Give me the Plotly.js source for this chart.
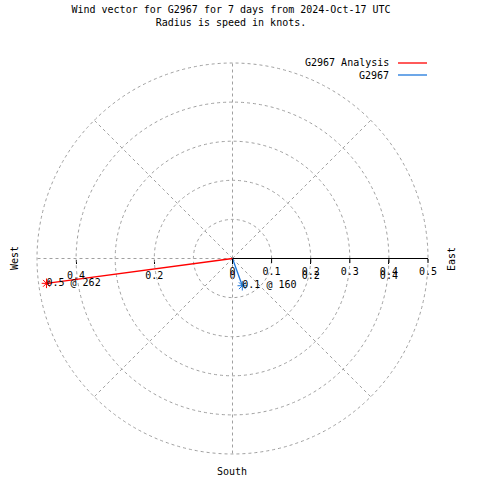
<!DOCTYPE html>
<html>
<head>
<meta charset="utf-8">
<script src="https://cdn.plot.ly/plotly-3.0.1.min.js"></script>
<style>html,body{margin:0;padding:0;background:#fff;}#chart{width:480px;height:480px;}</style>
</head>
<body>
<div id="chart"></div>
<script>
// ---- data ----
const seriesNames = ["G2967 Analysis", "G2967"];
const speedKnots = [0.48, 0.074];          // radius = speed (knots)
const directionDeg = [262.4, 160.2];       // compass bearing, clockwise from North
const pointLabels = ["0.5 @ 262", "0.1 @ 160"];
const radialTickVals = [0, 0.1, 0.2, 0.3, 0.4, 0.5];
const xTickVals = [-0.4, -0.2, 0, 0.2, 0.4];
const xTickText = ["0.4", "0.2", "0", "0.2", "0.4"];
const compassLabels = ["East", "West", "South"];
const titleLines = ["Wind vector for G2967 for 7 days from 2024-Oct-17 UTC", "Radius is speed in knots."];

// ---- styles ----
const seriesColors = ["#ff0000", "#1e78dc"];
const FONT = "DejaVu Sans Mono";
const GRID = "#a0a0a0";
const DASH = "3px,3px";
const W = 480, H = 480;
const cx = 232.5, cy = 258.5, R = 195.5;
const px = v => v / W, py = v => 1 - v / H;

const traces = [];
for (let i = 0; i < seriesNames.length; i++) {
  traces.push({
    type: "scatterpolar", subplot: "polar",
    r: [0, speedKnots[i]], theta: [directionDeg[i], directionDeg[i]],
    mode: "lines", line: {color: seriesColors[i], width: 1.3},
    name: seriesNames[i], showlegend: false, hoverinfo: "skip"
  });
  traces.push({
    type: "scatterpolar", subplot: "polar",
    r: [speedKnots[i]], theta: [directionDeg[i]],
    mode: "markers", marker: {symbol: "asterisk-open", size: 8, color: seriesColors[i], line: {color: seriesColors[i], width: 1}},
    showlegend: false, hoverinfo: "skip"
  });
  traces.push({
    type: "scatterpolar", subplot: "polar",
    r: [speedKnots[i]], theta: [directionDeg[i]],
    mode: "text", text: [pointLabels[i]], textposition: "middle right",
    marker: {size: 1}, textfont: {family: FONT, size: 10, color: "#000"},
    showlegend: false, hoverinfo: "skip"
  });
}
// carrier trace so the cartesian zero-axis ticks are drawn
traces.push({type: "scatter", x: [null], y: [null], xaxis: "x", yaxis: "y", showlegend: false, hoverinfo: "skip"});

const dom = {x: [px(cx - R), px(cx + R)], y: [py(cy + R), py(cy - R)]};

const layout = {
  width: W, height: H,
  margin: {l: 0, r: 0, t: 0, b: 0},
  paper_bgcolor: "#fff", plot_bgcolor: "rgba(0,0,0,0)",
  showlegend: false,
  font: {family: FONT, size: 10, color: "#000"},
  title: {
    text: titleLines.join("<br>"),
    font: {family: FONT, size: 10, color: "#000"},
    x: px(231), xanchor: "center", xref: "paper",
    y: py(13), yanchor: "top", yref: "container"
  },
  polar: {
    domain: dom,
    bgcolor: "rgba(0,0,0,0)",
    angularaxis: {
      rotation: 90, direction: "clockwise", dtick: 45,
      showline: false, showticklabels: false, ticks: "",
      showgrid: true, gridcolor: GRID, griddash: DASH, gridwidth: 1
    },
    radialaxis: {
      range: [0, 0.5], angle: 0, tickvals: radialTickVals,
      showline: true, linecolor: "#000", linewidth: 1,
      ticks: "outside", ticklen: 4, tickcolor: "#000", tickwidth: 1,
      showgrid: true, gridcolor: GRID, griddash: DASH, gridwidth: 1,
      tickfont: {family: FONT, size: 10, color: "#000"},
      side: "clockwise"
    }
  },
  xaxis: {
    domain: dom.x, range: [-0.5, 0.5], anchor: "free", position: py(cy),
    tickvals: xTickVals, ticktext: xTickText,
    ticks: "outside", ticklen: 4, tickcolor: "#000",
    ticklabelstandoff: 3,
    showline: false, showgrid: false, zeroline: false,
    tickfont: {family: FONT, size: 10, color: "#000"}, fixedrange: true
  },
  yaxis: {domain: dom.y, range: [-0.5, 0.5], visible: false, fixedrange: true},
  annotations: [
    {text: compassLabels[0], x: px(451), y: py(259), xref: "paper", yref: "paper", textangle: -90, showarrow: false, xanchor: "center", yanchor: "middle", font: {family: FONT, size: 10}},
    {text: compassLabels[1], x: px(14), y: py(258), xref: "paper", yref: "paper", textangle: -90, showarrow: false, xanchor: "center", yanchor: "middle", font: {family: FONT, size: 10}},
    {text: compassLabels[2], x: px(232), y: py(471), xref: "paper", yref: "paper", showarrow: false, xanchor: "center", yanchor: "middle", font: {family: FONT, size: 10}},
    {text: seriesNames[0], x: px(391), y: py(63), xref: "paper", yref: "paper", showarrow: false, xanchor: "right", yanchor: "middle", font: {family: FONT, size: 10}},
    {text: seriesNames[1], x: px(391), y: py(75), xref: "paper", yref: "paper", showarrow: false, xanchor: "right", yanchor: "middle", font: {family: FONT, size: 10}}
  ],
  shapes: [
    // outer 0.5 ring of the polar grid (Plotly skips the gridline at the range end)
    {type: "circle", xref: "paper", yref: "paper", layer: "below",
     x0: px(cx - R), x1: px(cx + R), y0: py(cy + R), y1: py(cy - R),
     line: {color: GRID, width: 1, dash: DASH}},
    {type: "line", xref: "paper", yref: "paper", x0: px(398), x1: px(427), y0: py(63), y1: py(63), line: {color: seriesColors[0], width: 1.3}},
    {type: "line", xref: "paper", yref: "paper", x0: px(398), x1: px(427), y0: py(75), y1: py(75), line: {color: seriesColors[1], width: 1.3}}
  ]
};

Plotly.newPlot("chart", traces, layout, {staticPlot: true, displayModeBar: false});
</script>
</body>
</html>
